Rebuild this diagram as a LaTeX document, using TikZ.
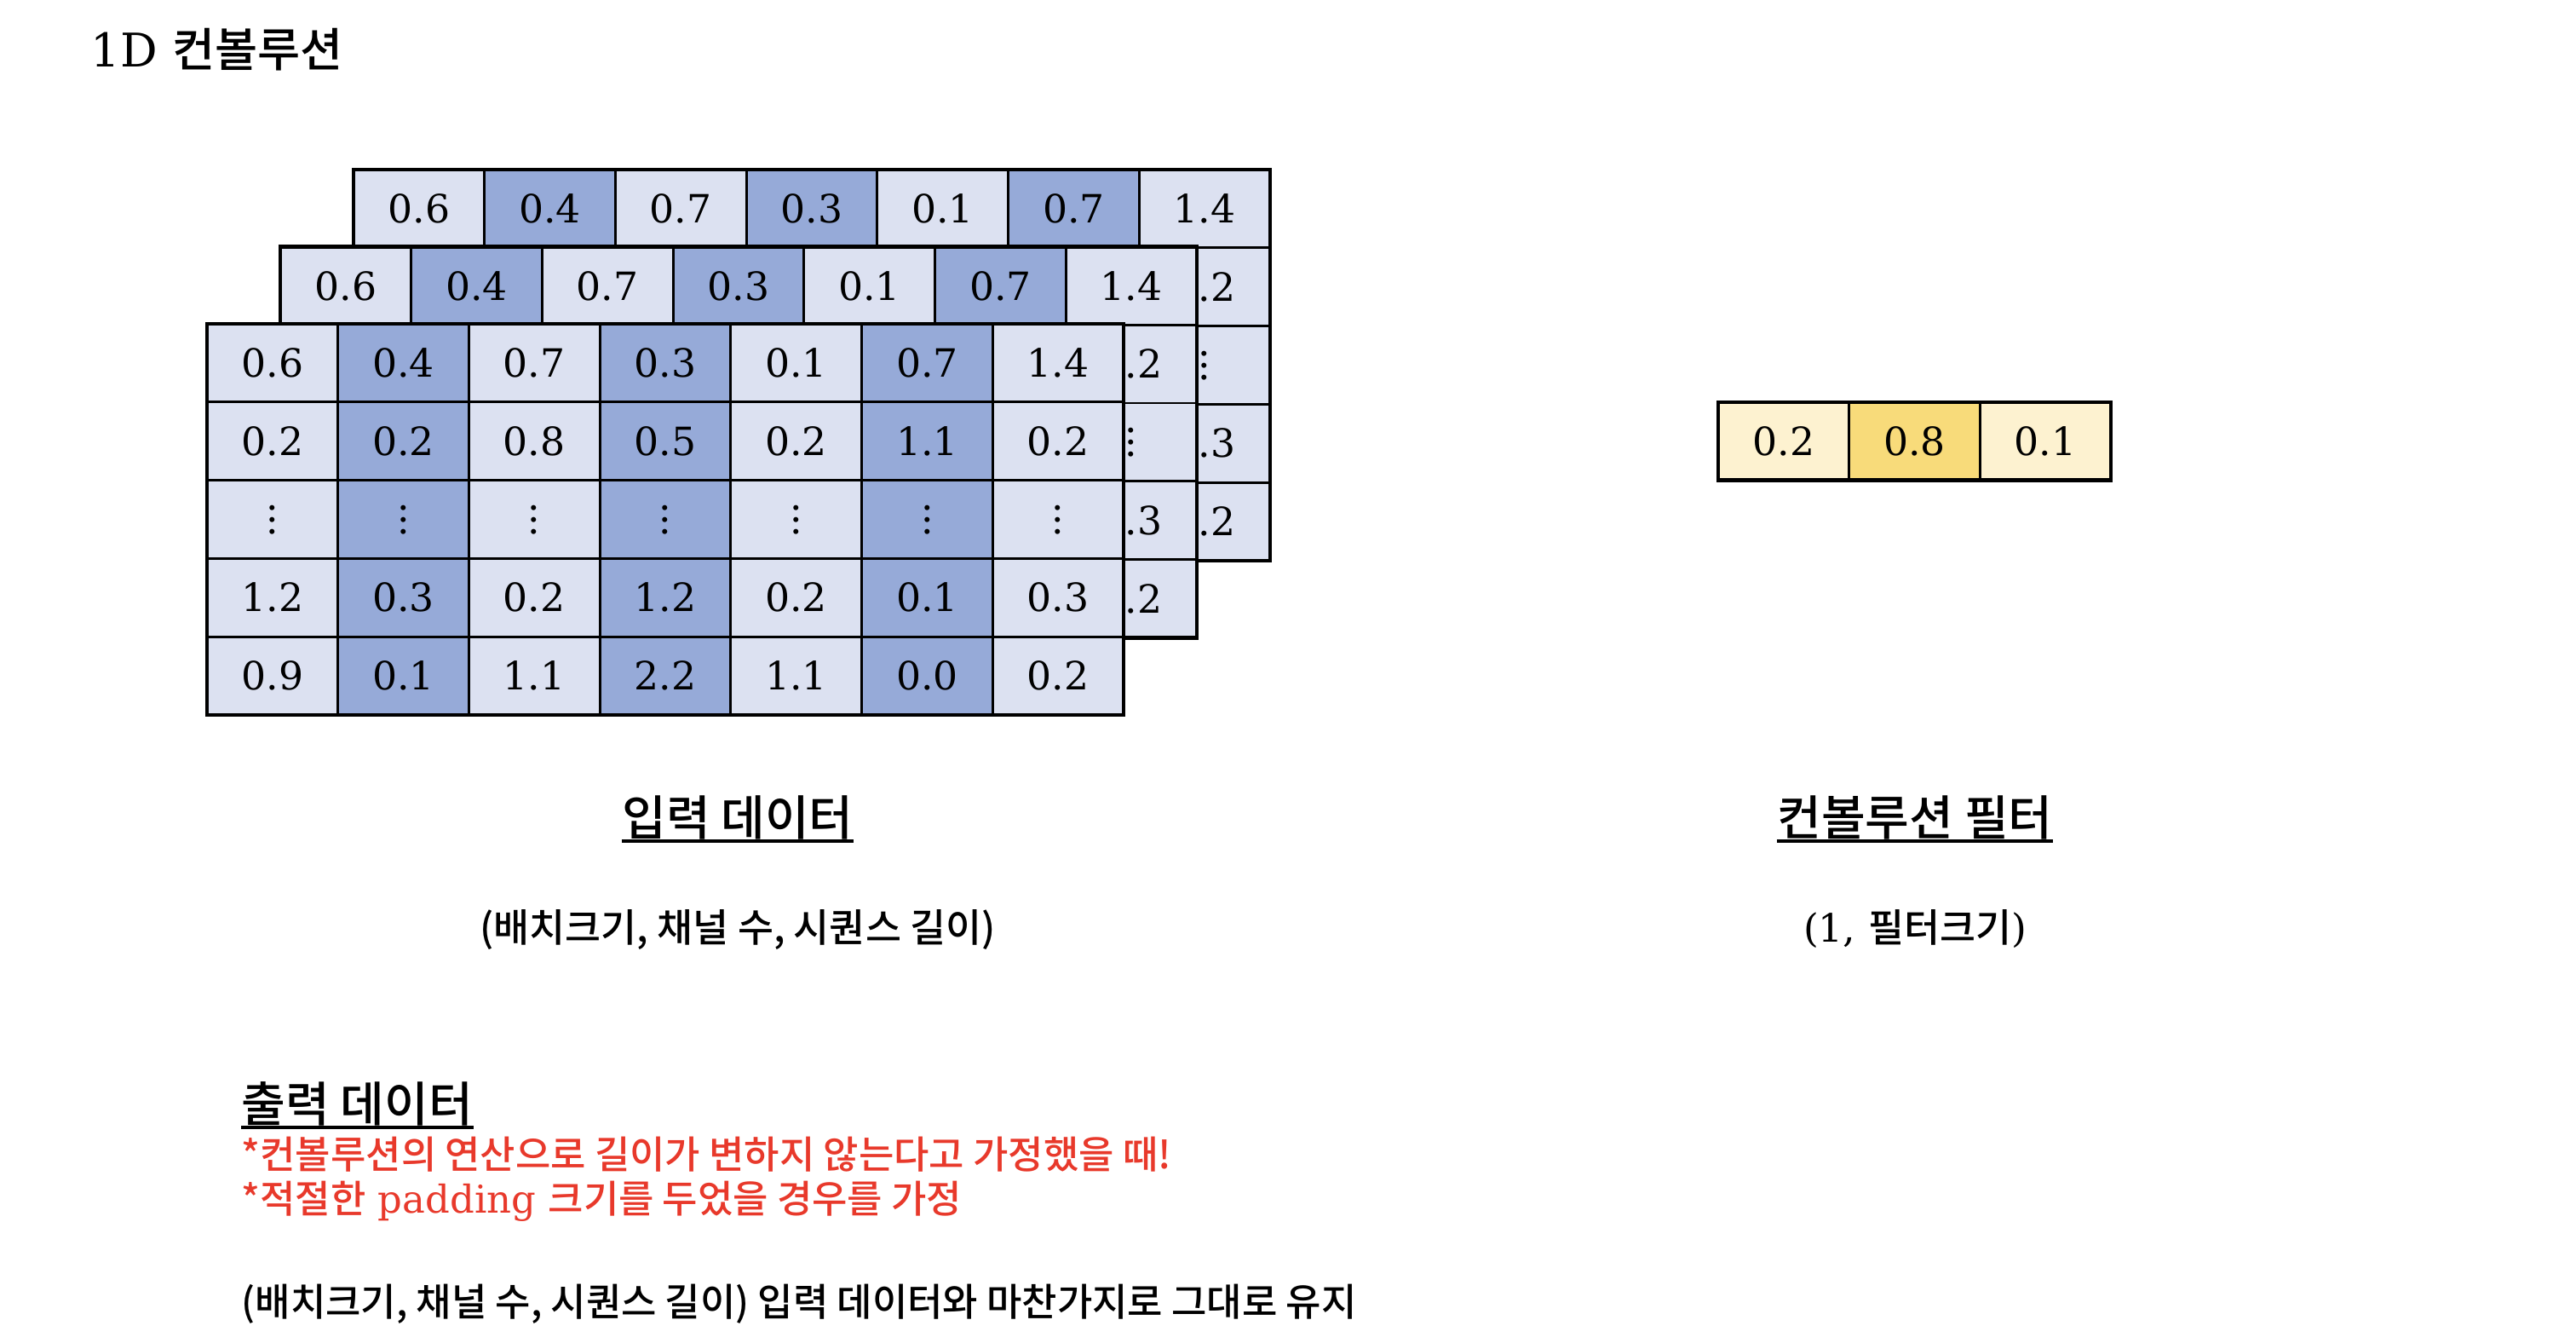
\documentclass[tikz,border=0pt]{standalone}
\usepackage{fontspec}
\setmainfont{DejaVu Serif}
\newfontfamily\kr{Noto Sans CJK KR Medium}
\usepackage{tikz}

\definecolor{cellA}{HTML}{DCE1F1}
\definecolor{cellB}{HTML}{96AAD8}
\definecolor{filtA}{HTML}{FDF2D0}
\definecolor{filtB}{HTML}{F8DB7A}
\definecolor{notered}{HTML}{E8392B}

\begin{document}
\begin{tikzpicture}[
    cell/.style={draw, line width=0.8pt, minimum width=1.537cm, minimum height=0.918cm,
        inner sep=0pt, outer sep=0pt, text height=9.5pt, text depth=0pt,
        font=\fontsize{13}{15}\selectfont},
    head/.style={anchor=base, inner sep=0pt, font=\kr\fontsize{16}{20}\selectfont},
    sub/.style={anchor=base, inner sep=0pt, font=\fontsize{13}{15}\selectfont},
    note/.style={anchor=base west, inner sep=0pt, text=notered, font=\fontsize{12.8}{15}\selectfont}]
    \useasboundingbox (0,0) rectangle (30.24,15.76);

    % Title
    \node[anchor=base west, inner sep=0pt, font=\fontsize{15.5}{20}\selectfont] (title)
        at (1.06,14.97) {1D {\kr 컨볼루션}};

    % Input data: three channels, drawn back to front
    \foreach \l in {2,1,0} {
        \foreach \vals [count=\row] in {{0.6,0.4,0.7,0.3,0.1,0.7,1.4},
                {0.2,0.2,0.8,0.5,0.2,1.1,0.2},
                {$\vdots$,$\vdots$,$\vdots$,$\vdots$,$\vdots$,$\vdots$,$\vdots$},
                {1.2,0.3,0.2,1.2,0.2,0.1,0.3},
                {0.9,0.1,1.1,2.2,1.1,0.0,0.2}} {
            \foreach \v [count=\col] in \vals {
                \ifodd\col \def\cellfill{cellA}\else \def\cellfill{cellB}\fi
                \node[cell, fill=\cellfill] (c\l-\row-\col)
                    at ({2.43+0.86*\l+1.537*(\col-0.5)}, {11.96+0.905*\l-0.918*(\row-0.5)}) {\v};
            }
        }
        \draw[line width=1.2pt] (c\l-1-1.north west) rectangle (c\l-5-7.south east);
    }

    % Convolution filter
    \foreach \v [count=\col] in {0.2,0.8,0.1} {
        \ifodd\col \def\cellfill{filtA}\else \def\cellfill{filtB}\fi
        \node[cell, fill=\cellfill] (f\col) at ({20.17+1.537*(\col-0.5)}, 10.583) {\v};
    }
    \draw[line width=1.2pt] (f1.north west) rectangle (f3.south east);

    % Labels under the input and the filter
    \node[head] (inhead) at (8.66,5.95) {입력 데이터};
    \draw[line width=1pt] ([yshift=-1.7pt]inhead.base west) -- ([yshift=-1.7pt]inhead.base east);
    \node[sub] (inshape) at (8.66,4.70) {\kr (배치크기, 채널 수, 시퀀스 길이)};

    \node[head] (fhead) at (22.48,5.95) {컨볼루션 필터};
    \draw[line width=1pt] ([yshift=-1.7pt]fhead.base west) -- ([yshift=-1.7pt]fhead.base east);
    \node[sub] (fshape) at (22.48,4.70) {(1, {\kr 필터크기})};

    % Output data
    \node[head, anchor=base west] (outhead) at (2.83,2.59) {출력 데이터};
    \draw[line width=1pt] ([yshift=-1.7pt]outhead.base west) -- ([yshift=-1.7pt]outhead.base east);
    \node[note] (note1) at (2.83,2.04) {\kr *컨볼루션의 연산으로 길이가 변하지 않는다고 가정했을 때!};
    \node[note] (note2) at (2.83,1.52) {{\kr *적절한} padding {\kr 크기를 두었을 경우를 가정}};
    \node[sub, anchor=base west, font=\fontsize{12.8}{15}\selectfont] (outshape) at (2.83,0.31)
        {\kr (배치크기, 채널 수, 시퀀스 길이) 입력 데이터와 마찬가지로 그대로 유지};
\end{tikzpicture}
\end{document}
